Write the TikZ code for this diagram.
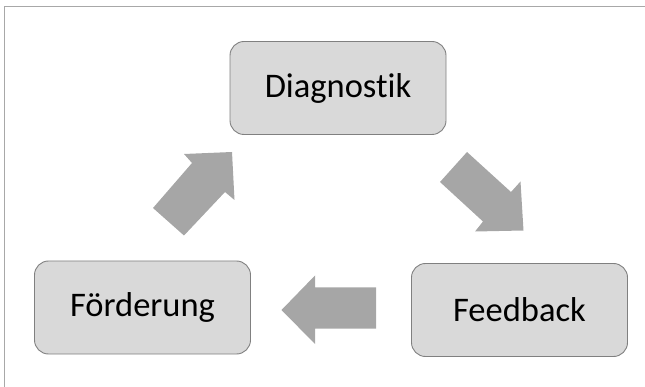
\documentclass[tikz,border=0pt]{standalone}
\usepackage{fontspec}
\setmainfont{Carlito}[RawFeature={-liga}]
\definecolor{boxgray}{HTML}{D9D9D9}
\definecolor{edgegray}{HTML}{808080}
\definecolor{arrowgray}{HTML}{A6A6A6}
\definecolor{framegray}{HTML}{A8A8A8}

\begin{document}
\begin{tikzpicture}[x=1pt, y=1pt, yscale=-1, inner sep=0pt, outer sep=0pt,
  stage/.style={draw=edgegray, fill=boxgray, line width=0.9pt,
    rounded corners=14pt, minimum width=216pt, minimum height=93pt,
    font=\fontsize{34.5}{40}\selectfont},
  blockarrow/.style={fill=arrowgray, draw=none}]
  \useasboundingbox (0,0) rectangle (645,387);
  \path[draw=framegray, line width=1.5pt]
    (4.5,387) -- (4.5,6.5) -- (645,6.5);
  \node[stage] (diagnostik) at (338,88) {Diagnostik};
  \node[stage] (foerderung) at (142.5,307.5) {Förderung};
  \node[stage] (feedback) at (519.5,310) {Feedback};
  \path[blockarrow] (153,208) -- (192,163) -- (184,154) -- (232,152) --
    (234.5,200) -- (225,192) -- (184,235.5) -- cycle;
  \path[blockarrow] (440,182) -- (467,152) -- (511,192) -- (520.5,181.5) --
    (523.5,230.5) -- (475,231.5) -- (483,221.5) -- cycle;
  \path[blockarrow] (376,287.5) -- (315,287.5) -- (315,275.5) --
    (281.5,310) -- (315,344) -- (315,328.5) -- (376,328.5) -- cycle;
\end{tikzpicture}
\end{document}
